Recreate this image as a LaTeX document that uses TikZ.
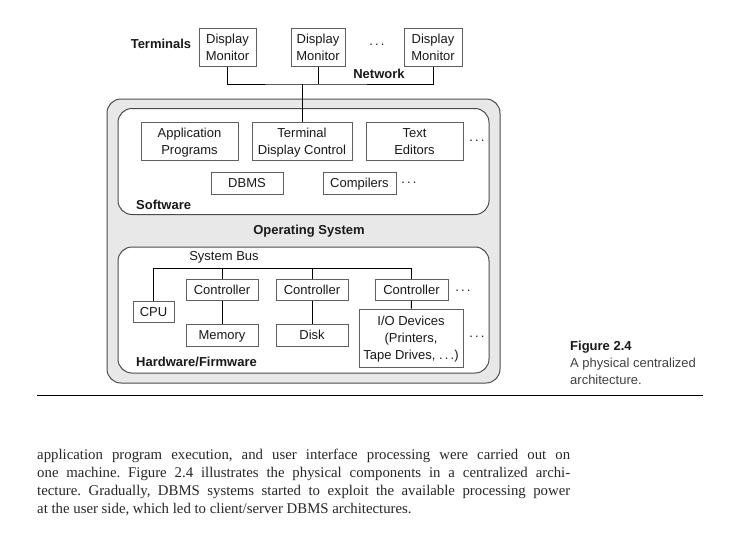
\documentclass[tikz,border=0pt]{standalone}
\usepackage{fontspec}
\setmainfont{Liberation Sans}
\newfontfamily\bodyserif{Liberation Serif}
\usepackage{tikz}
\newcommand{\lnstrut}{\vrule width 0pt height 13.2pt depth 3.8pt}
\newcommand{\twolines}[2]{\lnstrut #1\\\lnstrut #2}

\begin{document}
\begin{tikzpicture}[x=1pt,y=-1pt]
	\tikzstyle{every node}+=[inner sep=0pt, font=\fontsize{13}{17}\selectfont, text=black!90]
	\tikzstyle{unit}=[draw=gray!75!black, fill=white, line width=1pt, align=center]
	\tikzstyle{frame}=[draw=black!70, rounded corners=14pt, line width=1pt]
	\tikzstyle{tag}=[font=\fontsize{13}{17}\selectfont\bfseries]
	\tikzstyle{wire}=[black, line width=1pt]
	\tikzstyle{bodyline}=[anchor=base west, font=\fontsize{14.8}{18}\bodyserif\frenchspacing, text=black!85]
	\useasboundingbox (0,0) rectangle (734,542);
	% frames
	\node [frame, fill=gray!18, minimum width=393, minimum height=284] (os) at (303.5,241) {};
	\node [frame, fill=white, minimum width=371, minimum height=106] (soft) at (303.5,161.5) {};
	\node [frame, fill=white, minimum width=371, minimum height=126] (hard) at (303.5,310) {};
	% terminals
	\node [tag] (terminals) at (161,44) {Terminals};
	\node [unit, minimum width=57, minimum height=38] (dm1) at (227.5,47.5) {\twolines{Display}{Monitor}};
	\node [unit, minimum width=54, minimum height=38] (dm2) at (318,47.5) {\twolines{Display}{Monitor}};
	\node (dotsA) at (377,45) {.\,.\,.};
	\node [unit, minimum width=58, minimum height=38] (dm3) at (433,47.5) {\twolines{Display}{Monitor}};
	\node [tag] (network) at (379,74) {Network};
	% software
	\node [unit, minimum width=97, minimum height=38] (app) at (189.5,141) {\twolines{Application}{Programs}};
	\node [unit, minimum width=100, minimum height=38] (tdc) at (302,141) {\twolines{Terminal}{Display Control}};
	\node [unit, minimum width=97, minimum height=38] (ted) at (414.5,141) {\twolines{Text}{Editors}};
	\node (dotsB) at (477,140.5) {.\,.\,.};
	\node [unit, minimum width=72, minimum height=22] (dbms) at (247,183) {\lnstrut DBMS};
	\node [unit, minimum width=73, minimum height=22] (comp) at (359.5,183) {\lnstrut Compilers};
	\node (dotsC) at (409,182.5) {.\,.\,.};
	\node [tag, anchor=west] (softlbl) at (136,205) {Software};
	\node [tag] (oslbl) at (309,231) {Operating System};
	% hardware
	\node (buslbl) at (224,257) {System Bus};
	\node [unit, minimum width=41, minimum height=21] (cpu) at (153.5,311.5) {\lnstrut CPU};
	\node [unit, minimum width=72, minimum height=21] (c1) at (222,289.5) {\lnstrut Controller};
	\node [unit, minimum width=72, minimum height=21] (c2) at (312,289.5) {\lnstrut Controller};
	\node [unit, minimum width=73, minimum height=21] (c3) at (411.5,289.5) {\lnstrut Controller};
	\node (dotsD) at (463,291) {.\,.\,.};
	\node [unit, minimum width=72, minimum height=22] (mem) at (222,335) {\lnstrut Memory};
	\node [unit, minimum width=72, minimum height=22] (disk) at (312,335) {\lnstrut Disk};
	\node [unit, minimum width=104, minimum height=58] (io) at (411,338) {\lnstrut I/O Devices\\\lnstrut(Printers,\\\lnstrut Tape Drives, .\,.\,.)};
	\node (dotsE) at (477,337) {.\,.\,.};
	\node [tag, anchor=west] (hardlbl) at (136,362) {Hardware/Firmware};
	% wiring
	\coordinate (netjoin) at (302,84);
	\coordinate (bus) at (153,268);
	\draw [wire] (dm1.south) |- (netjoin) -| (dm3.south);
	\draw [wire] (dm2.south) -- (dm2.south |- netjoin);
	\draw [wire] (netjoin) -- (tdc.north);
	\draw [wire] (cpu.north) |- (c3.north |- bus) -- (c3.north);
	\draw [wire] (c1.north) -- (c1.north |- bus);
	\draw [wire] (c2.north) -- (c2.north |- bus);
	\draw [wire] (c1) -- (mem);
	\draw [wire] (c2) -- (disk);
	\draw [wire] (c3) -- (io);
	% caption
	\node [tag, anchor=base west] (figno) at (570,350) {Figure 2.4};
	\node [anchor=base west, text=black!75] (cap1) at (570,367) {A physical centralized};
	\node [anchor=base west, text=black!75] (cap2) at (570,384) {architecture.};
	\draw [line width=1pt] (37,395) -- (703,395);
	% running text
	\node [bodyline] (l1) at (37,459) {\makebox[533pt][s]{application program execution, and user interface processing were carried out on}};
	\node [bodyline] (l2) at (37,477) {\makebox[533pt][s]{one machine. Figure 2.4 illustrates the physical components in a centralized archi-}};
	\node [bodyline] (l3) at (37,495) {\makebox[533pt][s]{tecture. Gradually, DBMS systems started to exploit the available processing power}};
	\node [bodyline] (l4) at (37,513) {at the user side, which led to client/server DBMS architectures.};
\end{tikzpicture}
\end{document}
